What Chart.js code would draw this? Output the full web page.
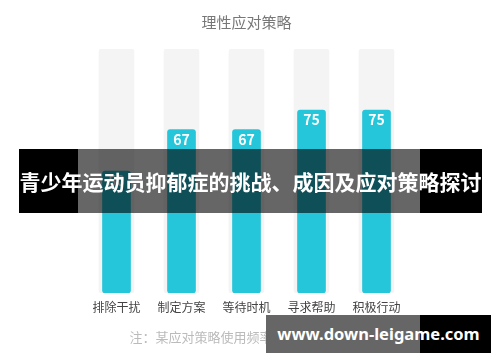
<!DOCTYPE html>
<html lang="zh-CN">
<head>
<meta charset="UTF-8">
<title>理性应对策略</title>
<script src="https://cdn.jsdelivr.net/npm/chart.js"></script>
<style>
    body { margin: 0; background: #fff; }
    .wrap { position: relative; width: 500px; height: 362px; }
    .banner {
        position: absolute; left: 19px; top: 149px; width: 463px; height: 64px;
        background: linear-gradient(to right, #000 0 59px, rgba(0,0,0,0.6) 59px 401px, #000 401px);
        color: #fff; font: bold 21px "Noto Sans CJK SC", sans-serif;
        line-height: 64px; text-align: center; white-space: nowrap; overflow: hidden;
    }
    .site {
        position: absolute; left: 266px; top: 315px; width: 225px; height: 38px;
        background: linear-gradient(to right, #666 0 154px, #000 154px);
        color: #fff; font: bold 16.5px "Noto Sans", sans-serif;
        line-height: 38px; text-align: center; white-space: nowrap;
    }
</style>
</head>
<body>
<div class="wrap">
    <canvas id="chart" width="500" height="362"></canvas>
    <div class="banner">青少年运动员抑郁症的挑战、成因及应对策略探讨</div>
    <div class="site">www.down-leigame.com</div>
</div>

<script>
    // dados
    const categories = ['排除干扰', '制定方案', '等待时机', '寻求帮助', '积极行动'];
    const values = [50, 67, 67, 75, 75];
    const trackValues = [100, 100, 100, 100, 100];

    const fontCJK = '"Noto Sans CJK SC", sans-serif';

    // numero branco no topo de cada barra
    const topLabels = {
        id: 'topLabels',
        afterDatasetsDraw(chart) {
            const ctx = chart.ctx;
            const meta = chart.getDatasetMeta(1);
            ctx.save();
            ctx.fillStyle = '#fff';
            ctx.font = 'bold 14px ' + fontCJK;
            ctx.textAlign = 'center';
            ctx.textBaseline = 'middle';
            meta.data.forEach((bar, i) => {
                ctx.fillText(values[i], bar.x, bar.y + 10);
            });
            ctx.restore();
        }
    };

    new Chart(document.getElementById('chart'), {
        type: 'bar',
        data: {
            labels: categories,
            datasets: [{
                data: trackValues,
                backgroundColor: '#f4f4f4',
                borderRadius: 3,
                borderSkipped: false,
                barThickness: 35,
                grouped: false,
                order: 2
            }, {
                data: values,
                backgroundColor: '#26c6da',
                borderRadius: 3,
                borderSkipped: false,
                barThickness: 28,
                grouped: false,
                order: 1
            }]
        },
        options: {
            responsive: false,
            animation: false,
            layout: { padding: { left: 84, right: 91, top: 10, bottom: 17 } },
            plugins: {
                legend: { display: false },
                tooltip: { enabled: false },
                title: {
                    display: true,
                    text: '理性应对策略',
                    color: '#777',
                    font: { family: fontCJK, size: 15, weight: 'normal' },
                    padding: { top: 3, bottom: 18 }
                },
                subtitle: {
                    display: true,
                    position: 'bottom',
                    text: '注：某应对策略使用频率越高，数值越大',
                    color: '#bbb',
                    font: { family: fontCJK, size: 13 },
                    padding: { top: 8, bottom: 0 }
                }
            },
            scales: {
                x: {
                    grid: { display: false, drawTicks: false },
                    border: { display: false },
                    ticks: { color: '#444', font: { family: fontCJK, size: 12 }, padding: 7 }
                },
                y: {
                    display: false,
                    min: 0,
                    max: 100
                }
            }
        },
        plugins: [topLabels]
    });
</script>
</body>
</html>
